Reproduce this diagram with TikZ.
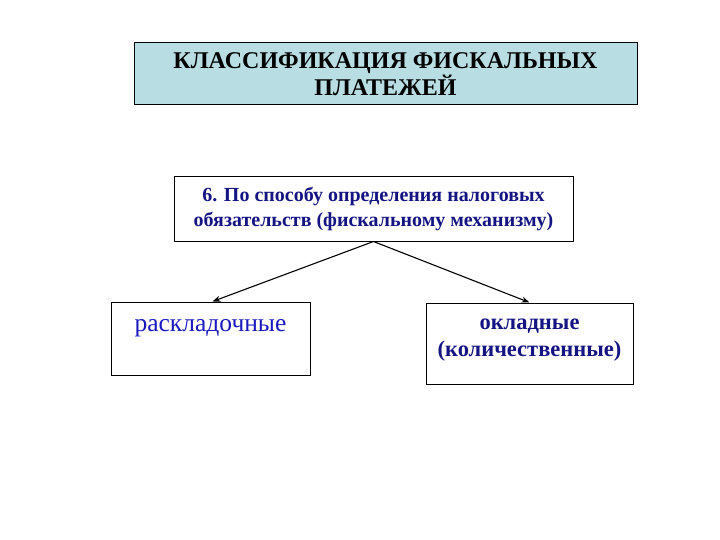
\documentclass[tikz,border=0pt]{standalone}
\usepackage{fontspec}
\setmainfont{Liberation Serif}
\usepackage{tikz}
\usetikzlibrary{arrows.meta}
\usepackage{xcolor}
\definecolor{headfill}{RGB}{184,222,227}
\definecolor{navytext}{RGB}{20,20,130}
\definecolor{bluetext}{RGB}{25,25,190}

\begin{document}
\begin{tikzpicture}[x=1pt, y=-1pt,
    box/.style={rectangle, draw=black, line width=1pt, inner sep=0pt, align=center},
    link/.style={-{Stealth[length=8pt, width=6pt]}, line width=1.1pt}]
        \useasboundingbox (0,0) rectangle (720,540);

        \node[box, fill=headfill, minimum width=503pt, minimum height=62pt,
              font=\fontsize{24}{27}\selectfont\bfseries] (head) at (385.5,74)
            {КЛАССИФИКАЦИЯ ФИСКАЛЬНЫХ\\ПЛАТЕЖЕЙ};

        \node[box, minimum width=399pt, minimum height=64pt, text=navytext,
              font=\fontsize{20}{25}\selectfont\bfseries] (method) at (373.5,209)
            {6. По способу определения налоговых\\обязательств (фискальному механизму)};

        \node[box, minimum width=199pt, minimum height=73pt, text=bluetext,
              font=\fontsize{25.5}{27}\selectfont] (rask) at (210.5,338.5)
            {раскладочные\\\mbox{}};

        \node[box, minimum width=207pt, minimum height=81pt, text=navytext,
              font=\fontsize{22.5}{27}\selectfont\bfseries] (oklad) at (529.5,343.5)
            {окладные\\(количественные)\\[-15pt]\mbox{}};

        \draw[link] (method.south) -- ([xshift=2pt]rask.north);
        \draw[link] (method.south) -- (oklad.north);
    \end{tikzpicture}
\end{document}
